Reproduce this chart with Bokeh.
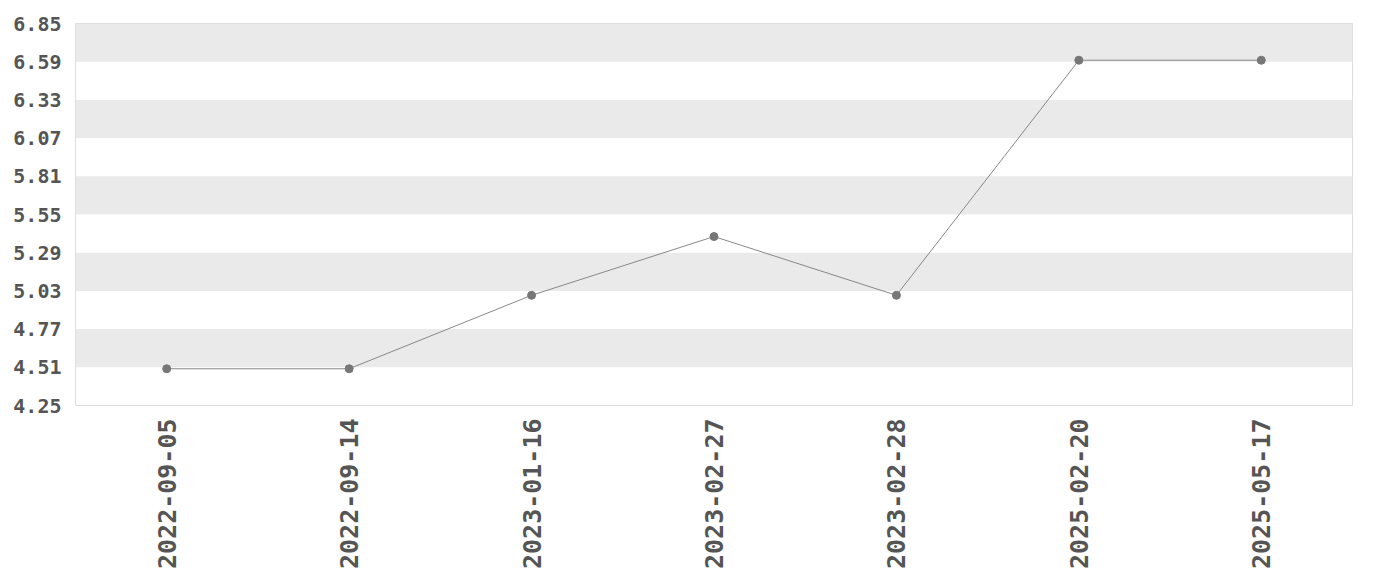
import numpy as np
from bokeh.plotting import figure
from bokeh.models import FixedTicker, Range1d, CustomJSTickFormatter
from bokeh.embed import file_html
from bokeh.resources import INLINE

dates = ["2022-09-05", "2022-09-14", "2023-01-16", "2023-02-27", "2023-02-28", "2025-02-20", "2025-05-17"]
values = [4.50, 4.50, 5.00, 5.40, 5.00, 6.60, 6.60]
y_ticks = [4.25, 4.51, 4.77, 5.03, 5.29, 5.55, 5.81, 6.07, 6.33, 6.59, 6.85]

FONT = "DejaVu Sans Mono"
TXT = "#555555"

p = figure(x_range=dates, y_range=Range1d(y_ticks[0], y_ticks[-1]),
           width=1372, height=572, output_backend="svg", toolbar_location=None,
           min_border_top=23, min_border_right=20, min_border_left=75)

p.line(dates, values, line_color="#888888", line_width=1)
p.scatter(dates, values, size=8, fill_color="#777777", line_color="#777777")

p.yaxis.ticker = FixedTicker(ticks=y_ticks)
p.yaxis.formatter = CustomJSTickFormatter(code="return tick.toFixed(2);")

p.xgrid.grid_line_color = None
p.ygrid.grid_line_color = None
p.ygrid.band_fill_color = "#e8e8e8"
p.ygrid.band_fill_alpha = 0.9

for ax in (p.xaxis, p.yaxis):
    ax.axis_line_color = None
    ax.major_tick_line_color = None
    ax.minor_tick_line_color = None
    ax.major_label_text_font = FONT
    ax.major_label_text_font_style = "bold"
    ax.major_label_text_color = TXT

p.yaxis.major_label_text_font_size = "20px"
p.xaxis.major_label_text_font_size = "25px"
p.xaxis.major_label_orientation = np.pi / 2
p.xaxis.major_label_standoff = 7
p.yaxis.major_label_standoff = 8

p.outline_line_color = "#dddddd"
p.outline_line_width = 1

open("out.html", "w").write(file_html(p, INLINE))
